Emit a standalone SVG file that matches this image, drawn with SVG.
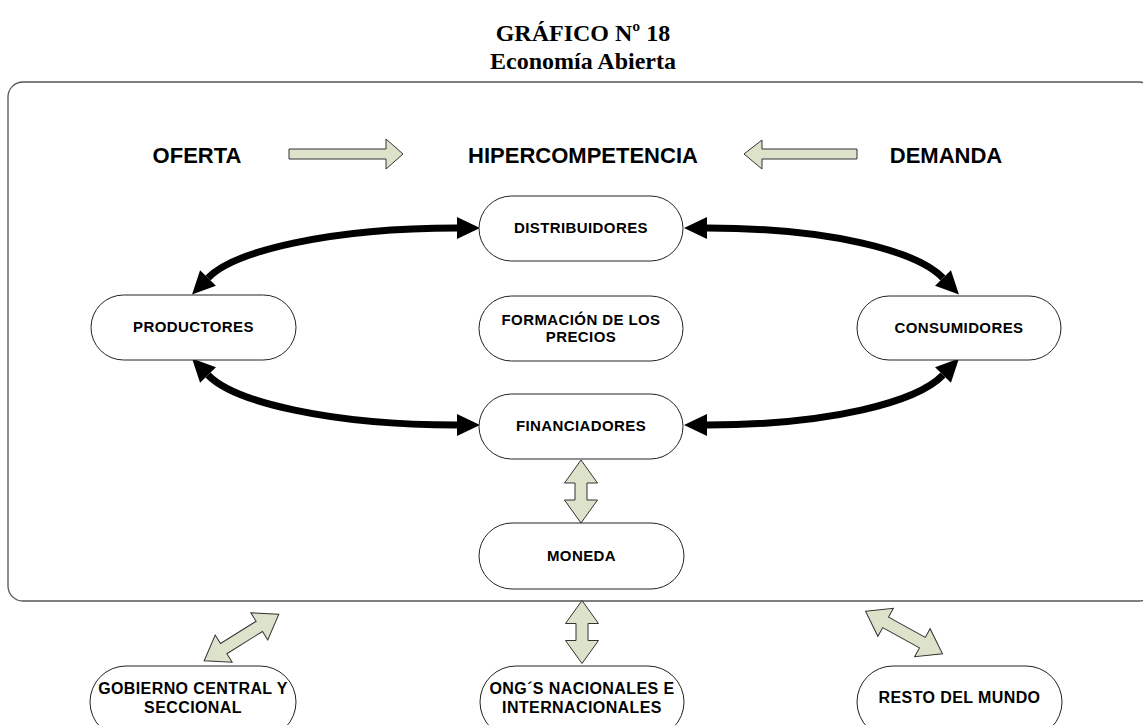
<svg xmlns="http://www.w3.org/2000/svg" width="1143" height="725" viewBox="0 0 1143 725">
<style>
.title{font-family:"Liberation Serif","Times New Roman",serif;font-weight:bold;font-size:24px;fill:#000;text-anchor:middle}
.big{font-family:"Liberation Sans",Arial,sans-serif;font-weight:bold;font-size:22px;fill:#000;text-anchor:middle}
.lbl{font-family:"Liberation Sans",Arial,sans-serif;font-weight:bold;font-size:15px;letter-spacing:0.4px;fill:#000;text-anchor:middle}
.lbl2{font-family:"Liberation Sans",Arial,sans-serif;font-weight:bold;font-size:16px;letter-spacing:0.4px;fill:#000;text-anchor:middle}
.node{fill:#fff;stroke:#222;stroke-width:1}
.frame{fill:none;stroke:#555;stroke-width:1.3}
.flow{fill:none;stroke:#000;stroke-width:7}
.hollow{fill:#dde2cb;stroke:#333;stroke-width:1}
</style>
<defs>
<marker id="ah" markerUnits="userSpaceOnUse" markerWidth="24" markerHeight="22" refX="0" refY="11" orient="auto-start-reverse" overflow="visible">
<path d="M0,0 L23,11 L0,22 Z" fill="#000"/>
</marker>
<polygon id="dbl88" points="-44,0 -21,-16 -21,-6 21,-6 21,-16 44,0 21,16 21,6 -21,6 -21,16"/>
<polygon id="dbl63" points="-31.5,0 -8.5,-16.5 -8.5,-6 8.5,-6 8.5,-16.5 31.5,0 8.5,16.5 8.5,6 -8.5,6 -8.5,16.5"/>
</defs>

<g id="title">
<text class="title" x="583" y="41">GRÁFICO Nº 18</text>
<text class="title" x="583" y="69">Economía Abierta</text>
</g>

<g id="frame">
<rect class="frame" x="8" y="82" width="1146" height="519" rx="15"/>
</g>

<g id="top-row">
<text class="big" x="197" y="163">OFERTA</text>
<text class="big" x="583" y="163">HIPERCOMPETENCIA</text>
<text class="big" x="946" y="163">DEMANDA</text>
</g>

<g id="connectors">
<polygon class="hollow" points="289,149 386,149 386,139 403,154 386,169 386,159 289,159"/>
<polygon class="hollow" points="857,149 762,149 762,140 744,154 762,169 762,159 857,159"/>
<path class="flow" d="M208,278 C234,251 330,228 457,228" marker-start="url(#ah)" marker-end="url(#ah)"/>
<path class="flow" d="M707,228 C830,228 917,251 943,278" marker-start="url(#ah)" marker-end="url(#ah)"/>
<path class="flow" d="M208,375 C234,402 330,425 457,425" marker-start="url(#ah)" marker-end="url(#ah)"/>
<path class="flow" d="M707,425 C830,425 917,402 943,375" marker-start="url(#ah)" marker-end="url(#ah)"/>
<use href="#dbl63" class="hollow" transform="translate(581,491.5) rotate(90)"/>
<use href="#dbl63" class="hollow" transform="translate(582,632) rotate(90)"/>
<use href="#dbl88" class="hollow" transform="translate(241.5,637.5) rotate(-32)"/>
<use href="#dbl88" class="hollow" transform="translate(904,632.5) rotate(29)"/>
</g>

<g id="distribuidores">
<rect class="node" x="479" y="196" width="204" height="65" rx="32.5"/>
<text class="lbl" x="581" y="233">DISTRIBUIDORES</text>
</g>
<g id="productores">
<rect class="node" x="91" y="295" width="205" height="65" rx="32.5"/>
<text class="lbl" x="193.5" y="332">PRODUCTORES</text>
</g>
<g id="formacion">
<rect class="node" x="479" y="296" width="204" height="65" rx="32.5"/>
<text class="lbl" x="581" y="325">FORMACIÓN DE LOS</text>
<text class="lbl" x="581" y="342">PRECIOS</text>
</g>
<g id="consumidores">
<rect class="node" x="857" y="296" width="204" height="64" rx="32"/>
<text class="lbl" x="959" y="333">CONSUMIDORES</text>
</g>
<g id="financiadores">
<rect class="node" x="479" y="394" width="204" height="65" rx="32.5"/>
<text class="lbl" x="581" y="431">FINANCIADORES</text>
</g>
<g id="moneda">
<rect class="node" x="479" y="523" width="205" height="66" rx="33"/>
<text class="lbl" x="581.5" y="561">MONEDA</text>
</g>
<g id="gobierno">
<rect class="node" x="90" y="666" width="206" height="72" rx="36"/>
<text class="lbl2" x="193" y="694">GOBIERNO CENTRAL Y</text>
<text class="lbl2" x="193" y="713">SECCIONAL</text>
</g>
<g id="ongs">
<rect class="node" x="480" y="666" width="204" height="72" rx="36"/>
<text class="lbl2" x="582" y="694">ONG´S NACIONALES E</text>
<text class="lbl2" x="582" y="713">INTERNACIONALES</text>
</g>
<g id="resto">
<rect class="node" x="857" y="666" width="205" height="72" rx="36"/>
<text class="lbl2" x="959.5" y="703">RESTO DEL MUNDO</text>
</g>
</svg>
